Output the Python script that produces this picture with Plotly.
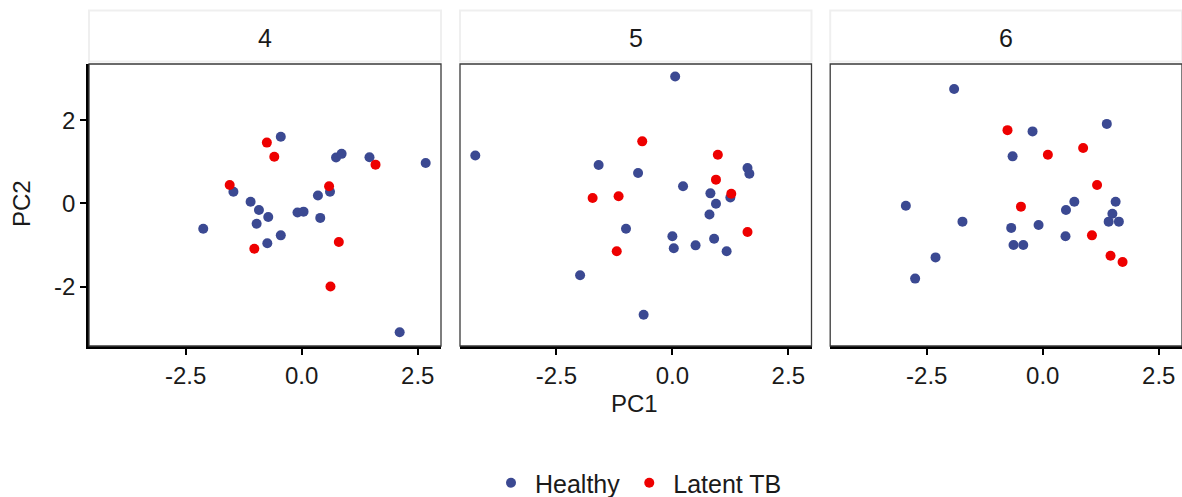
import plotly.graph_objects as go

# ---- data ----
panels = ["4", "5", "6"]

healthy_x_4 = [-0.45, 0.74, 0.86, 1.46, 2.67, -1.47, -1.10, -0.92, -0.72, -0.97, -0.74, -0.45, -0.09, 0.04, 0.35, 0.61, 0.40, -2.12, 2.11]
healthy_y_4 = [1.60, 1.10, 1.19, 1.11, 0.97, 0.28, 0.04, -0.16, -0.33, -0.49, -0.96, -0.77, -0.22, -0.20, 0.19, 0.28, -0.35, -0.61, -3.10]
latent_x_4 = [-0.75, -0.59, -1.55, 0.59, 1.59, 0.80, -1.02, 0.62]
latent_y_4 = [1.46, 1.12, 0.44, 0.41, 0.93, -0.93, -1.09, -2.00]

healthy_x_5 = [0.06, -4.25, -1.59, -0.74, 0.23, 1.62, 1.66, 0.82, 1.25, 0.94, 0.80, -1.00, 0.00, 0.03, 0.50, 0.90, 1.17, -1.99, -0.62]
healthy_y_5 = [3.05, 1.15, 0.92, 0.73, 0.41, 0.85, 0.71, 0.24, 0.14, -0.01, -0.27, -0.61, -0.79, -1.08, -1.01, -0.85, -1.15, -1.73, -2.68]
latent_x_5 = [-0.65, 0.98, 0.94, 1.27, -1.72, -1.16, 1.62, -1.20]
latent_y_5 = [1.49, 1.17, 0.57, 0.23, 0.13, 0.17, -0.69, -1.15]

healthy_x_6 = [-1.91, 1.38, -0.22, -0.65, -2.95, -1.73, 0.68, 0.50, 1.57, 1.50, 1.42, 1.64, -0.68, -0.09, -0.63, -0.42, 0.49, -2.31, -2.75]
healthy_y_6 = [2.75, 1.91, 1.73, 1.13, -0.06, -0.44, 0.04, -0.16, 0.04, -0.25, -0.44, -0.44, -0.59, -0.52, -1.00, -1.00, -0.79, -1.30, -1.81]
latent_x_6 = [-0.76, 0.11, 0.87, 1.17, -0.47, 1.06, 1.46, 1.72]
latent_y_6 = [1.76, 1.17, 1.33, 0.44, -0.08, -0.77, -1.26, -1.41]

groups = ["Healthy", "Latent TB"]
group_colors = ["#3B4992", "#EE0000"]

x_ticks = [-2.5, 0.0, 2.5]
x_tick_labels = ["-2.5", "0.0", "2.5"]
y_ticks = [-2, 0, 2]
y_tick_labels = ["-2", "0", "2"]

x_range = [-4.58, 3.0]
y_range = [-3.43, 3.35]

data = {
    "4": ((healthy_x_4, healthy_y_4), (latent_x_4, latent_y_4)),
    "5": ((healthy_x_5, healthy_y_5), (latent_x_5, latent_y_5)),
    "6": ((healthy_x_6, healthy_y_6), (latent_x_6, latent_y_6)),
}

FONT = "Liberation Sans"
TXT = "#1a1a1a"
W, H = 1182, 497
ML, MR, MT, MB = 89, 0, 64, 151
PW = W - ML - MR
PH = H - MT - MB

# panel pixel extents
panel_px = [(89, 441), (460, 811.5), (830.2, 1182)]
domains = [[(a - ML) / PW, min(1.0, (b - ML) / PW)] for a, b in panel_px]

fig = go.Figure()

for i, p in enumerate(panels):
    xa = "x" if i == 0 else f"x{i+1}"
    ya = "y" if i == 0 else f"y{i+1}"
    for g, (xs, ys) in enumerate(data[p]):
        fig.add_trace(go.Scatter(
            x=xs, y=ys, mode="markers", xaxis=xa, yaxis=ya,
            name=groups[g], legendgroup=groups[g], showlegend=(i == 0),
            marker=dict(color=group_colors[g], size=10, line=dict(width=0)),
            hoverinfo="skip",
        ))

layout = dict(
    width=W, height=H,
    margin=dict(l=ML, r=MR, t=MT, b=MB, autoexpand=False),
    paper_bgcolor="white", plot_bgcolor="white",
    font=dict(family=FONT, color=TXT, size=24),
    showlegend=True,
    legend=dict(orientation="h", x=(637 - ML) / PW, xanchor="center",
                y=(H - MB - 483) / PH, yanchor="middle",
                font=dict(size=25, color=TXT), itemwidth=38,
                bgcolor="rgba(0,0,0,0)"),
)

shapes = []
annotations = []
for i, p in enumerate(panels):
    xk = "xaxis" if i == 0 else f"xaxis{i+1}"
    yk = "yaxis" if i == 0 else f"yaxis{i+1}"
    anchor_y = "y" if i == 0 else f"y{i+1}"
    anchor_x = "x" if i == 0 else f"x{i+1}"
    layout[xk] = dict(
        domain=domains[i], range=x_range, anchor=anchor_y,
        showgrid=False, zeroline=False,
        showline=True, linecolor="black", linewidth=2.6,
        ticks="outside", ticklen=6, tickwidth=2, tickcolor="black",
        tickvals=x_ticks, ticktext=x_tick_labels,
        tickfont=dict(size=24, color=TXT),
    )
    yd = dict(
        domain=[0, 1], range=y_range, anchor=anchor_x,
        showgrid=False, zeroline=False,
        tickvals=y_ticks, ticktext=y_tick_labels,
        tickfont=dict(size=24, color=TXT),
    )
    if i == 0:
        yd.update(showline=True, linecolor="black", linewidth=2.6,
                  ticks="outside", ticklen=6, tickwidth=2, tickcolor="black",
                  showticklabels=True)
    else:
        yd.update(showline=False, ticks="", showticklabels=False, matches="y")
    layout[yk] = yd

    # panel border
    shapes.append(dict(type="rect", xref=f"{anchor_x} domain", yref=f"{anchor_y} domain",
                       x0=0, x1=1, y0=0, y1=1, line=dict(color="#3a3a3a", width=1.3),
                       fillcolor="rgba(0,0,0,0)", layer="above"))
    # strip
    shapes.append(dict(type="rect", xref=f"{anchor_x} domain", yref="paper",
                       x0=0, x1=1, y0=1 + 2.5 / PH, y1=1 + 53.5 / PH,
                       line=dict(color="#EFEFEF", width=2), fillcolor="white"))
    annotations.append(dict(text=p, xref=f"{anchor_x} domain", yref="paper",
                            x=0.5, y=1 + 26.5 / PH, showarrow=False,
                            xanchor="center", yanchor="middle",
                            font=dict(size=25, color=TXT)))

annotations.append(dict(text="PC1", xref="paper", yref="paper",
                        x=(634 - ML) / PW, y=(H - MB - 403.5) / PH,
                        showarrow=False, xanchor="center", yanchor="middle",
                        font=dict(size=24, color=TXT)))
annotations.append(dict(text="PC2", xref="paper", yref="paper",
                        x=(21 - ML) / PW, y=(H - MB - 204) / PH, textangle=-90,
                        showarrow=False, xanchor="center", yanchor="middle",
                        font=dict(size=24, color=TXT)))

layout["shapes"] = shapes
layout["annotations"] = annotations
fig.update_layout(**layout)

fig.write_html("out.html")
